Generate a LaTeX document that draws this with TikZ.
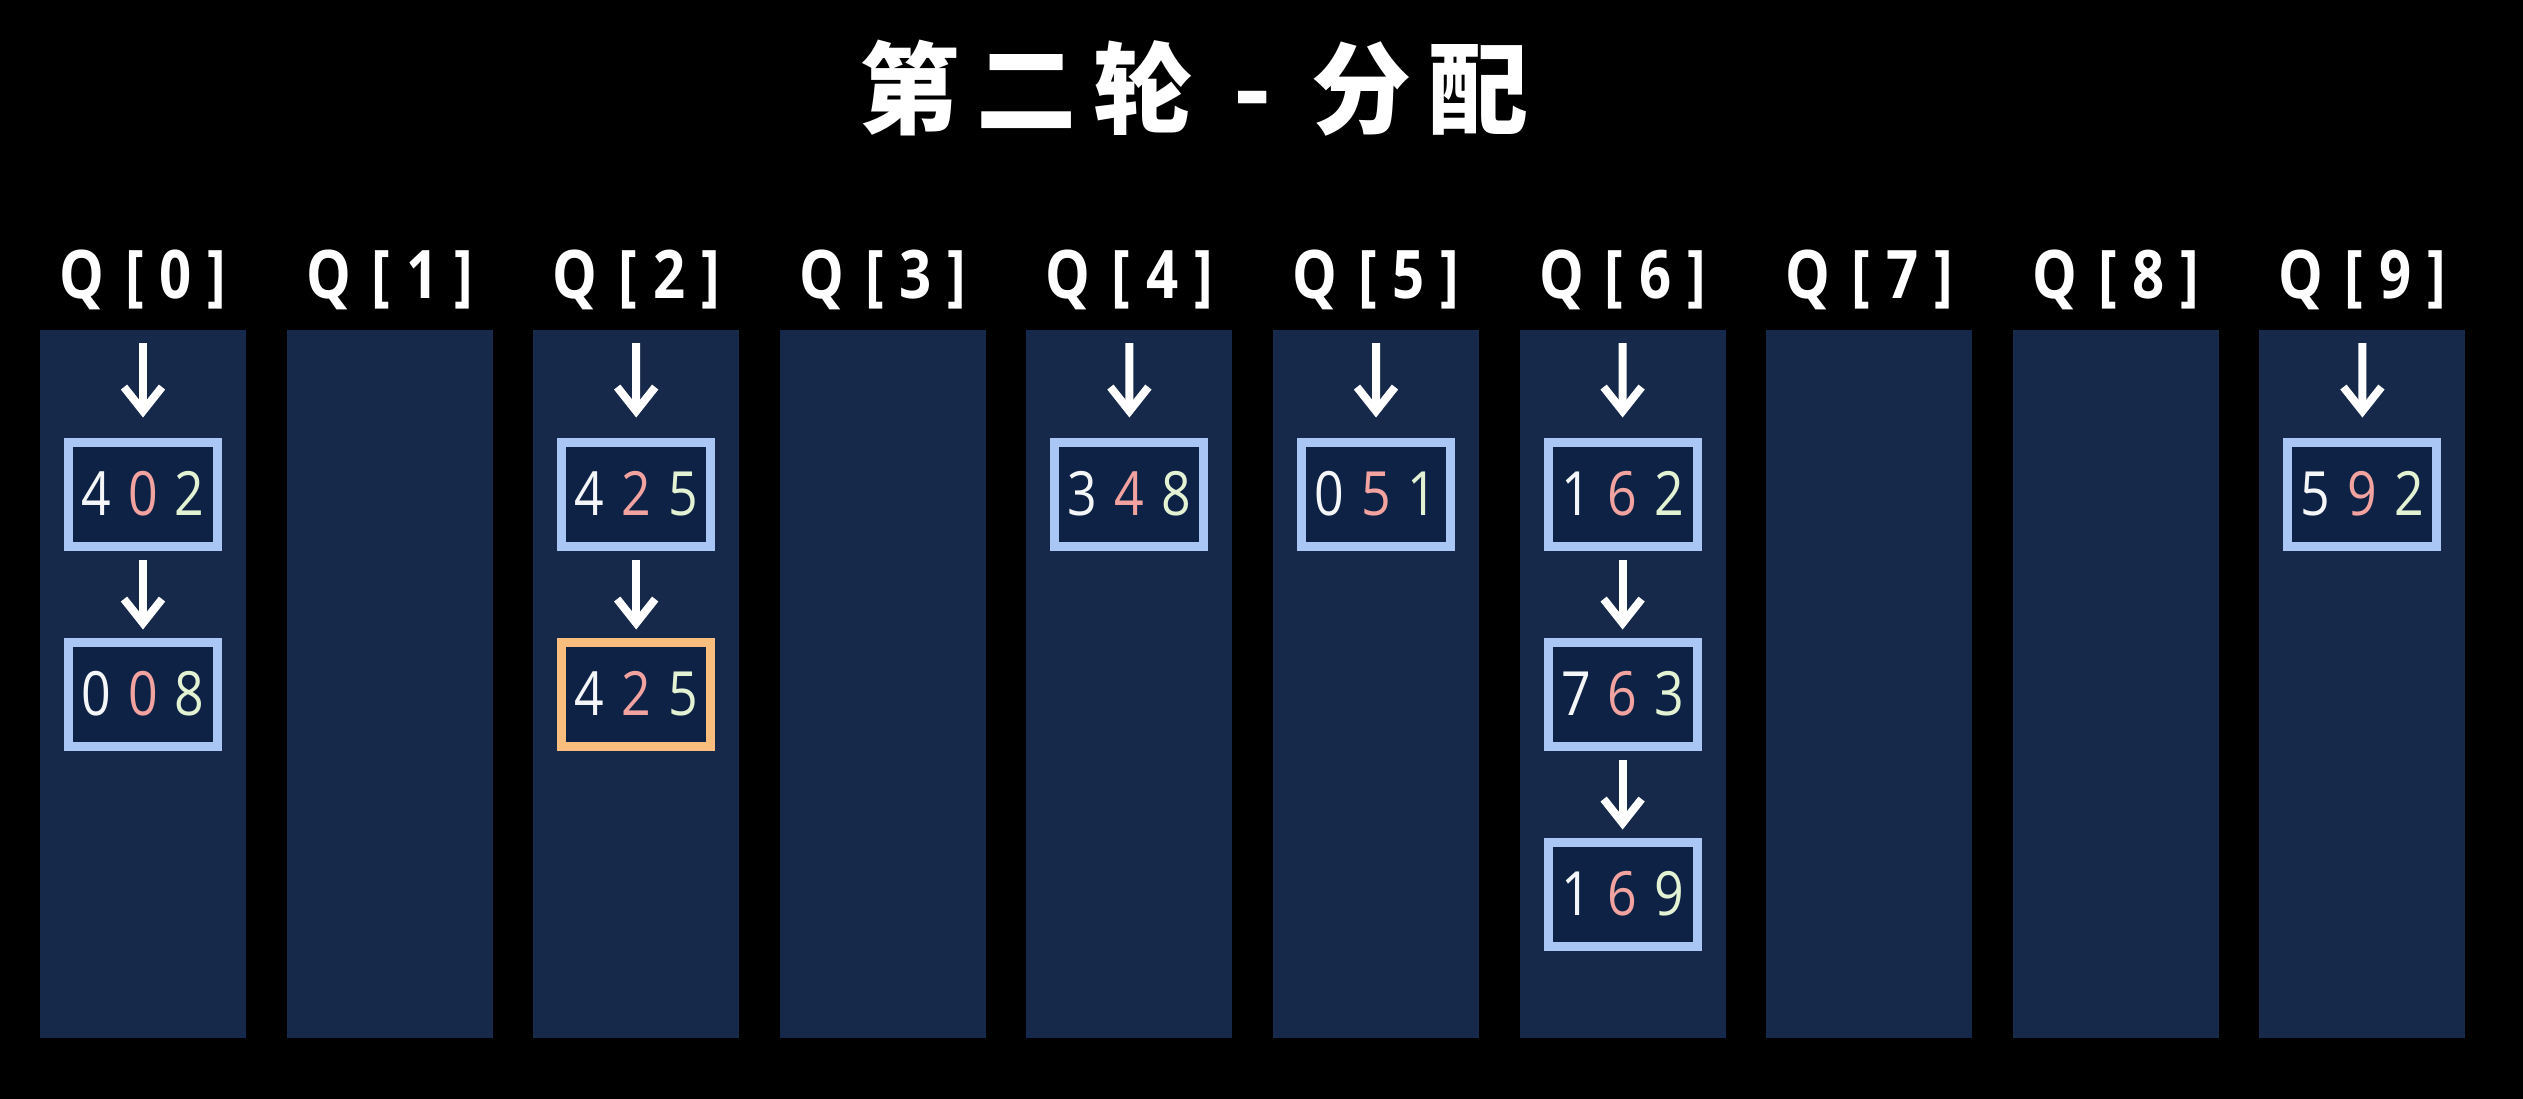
\documentclass[tikz,border=0pt]{standalone}
\usepackage{fontspec}
\usetikzlibrary{arrows.meta}
\newfontfamily\cjk{Noto Sans CJK SC}
\newfontfamily\qfont[FakeStretch=0.84]{Open Sans}
\newfontfamily\dfont[FakeStretch=0.85]{Open Sans}
\definecolor{colfill}{HTML}{16294A}
\definecolor{boxfill}{HTML}{0E2245}
\definecolor{boxline}{HTML}{A9C6F5}
\definecolor{boxorange}{HTML}{F9BD7E}
\definecolor{dpink}{HTML}{F2A3A0}
\definecolor{dgreen}{HTML}{E2F2D2}
\definecolor{dwhite}{HTML}{F4F6F8}
\newcommand\trip[3]{{\color{dwhite}#1}\hspace{17pt}{\color{dpink}#2}\hspace{17pt}{\color{dgreen}#3}}
\tikzset{
  colbox/.style={fill=colfill, draw=none, minimum width=206pt, minimum height=708pt, inner sep=0pt},
  qlabel/.style={text=white, font=\qfont\bfseries\fontsize{67}{67}\selectfont, inner sep=0pt},
  item/.style={draw=boxline, fill=boxfill, line width=9pt, minimum width=149pt, minimum height=104pt, inner sep=0pt, font=\dfont\fontsize{61}{61}\selectfont},
  hitem/.style={item, draw=boxorange},
  arr/.style={draw=white, line width=8pt, -{Straight Barb[length=24pt,width=38pt]}},
}
\begin{document}
\begin{tikzpicture}[x=1pt,y=-1pt]
\fill[black] (0,0) rectangle (2523,1099);
\useasboundingbox (0,0) rectangle (2523,1099);
\node[text=white, font=\cjk\bfseries\fontsize{100}{100}\selectfont, inner sep=0pt] (title) at (1194,88)
  {第\hspace{17pt}二\hspace{17pt}轮\hspace{40pt}-\hspace{40pt}分\hspace{17pt}配};
\foreach \i in {0,...,9}{
  \pgfmathsetmacro\cx{143+246.6*\i}
  \node[colbox] (c\i) at (\cx,684) {};
  \node[qlabel] (q\i) at (\cx,280) {Q\hspace{21pt}[\hspace{16pt}\i\hspace{16pt}]};
  \coordinate (t\i) at (\cx,343);
}
% column 0
\node[item] (n0a) at (143,494) {\trip402};
\node[item] (n0b) at (143,694) {\trip008};
% column 2
\node[item] (n2a) at (636.2,494) {\trip425};
\node[hitem] (n2b) at (636.2,694) {\trip425};
% column 4
\node[item] (n4a) at (1129.4,494) {\trip348};
% column 5
\node[item] (n5a) at (1376,494) {\trip051};
% column 6
\node[item] (n6a) at (1622.6,494) {\trip162};
\node[item] (n6b) at (1622.6,694) {\trip763};
\node[item] (n6c) at (1622.6,894) {\trip169};
% column 9
\node[item] (n9a) at (2362.4,494) {\trip592};
% arrows
\foreach \c in {0,2,4,5,6,9}{
  \draw[arr, shorten >=20pt] (t\c) -- (n\c a.north);
}
\draw[arr, shorten <=9pt, shorten >=8pt] (n0a.south) -- (n0b.north);
\draw[arr, shorten <=9pt, shorten >=8pt] (n2a.south) -- (n2b.north);
\draw[arr, shorten <=9pt, shorten >=8pt] (n6a.south) -- (n6b.north);
\draw[arr, shorten <=9pt, shorten >=8pt] (n6b.south) -- (n6c.north);
\end{tikzpicture}
\end{document}
